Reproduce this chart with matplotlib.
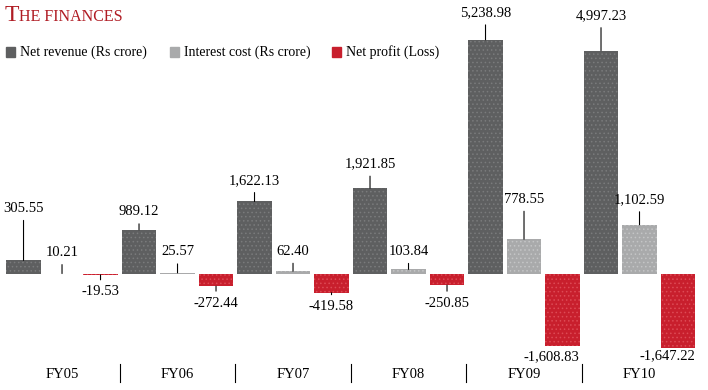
import matplotlib.pyplot as plt
import numpy as np

years = ['FY05', 'FY06', 'FY07', 'FY08', 'FY09', 'FY10']
net_revenue = [305.55, 989.12, 1622.13, 1921.85, 5238.98, 4997.23]
interest_cost = [10.21, 25.57, 62.40, 103.84, 778.55, 1102.59]
net_profit = [-19.53, -272.44, -419.58, -250.85, -1608.83, -1647.22]

# gap (px) between bar end and label centre
rev_gap = [52, 18, 21, 24, 27, 35]
int_gap = [21, 21, 20, 18, 40, 25]
prof_gap = [17, 17, 14, 18, 11, 8]

plt.rcParams['font.family'] = ['Liberation Serif', 'DejaVu Serif']
plt.rcParams['hatch.linewidth'] = 0.6

fig = plt.figure(figsize=(7.08, 3.9), dpi=100)
ax = fig.add_axes([0, 0, 1, 1])
ax.set_xlim(-0.537, 5.593)
ax.set_ylim(-2595, 6130)
ax.axis('off')

x = np.arange(len(years))
w = 0.3
series = [
    (net_revenue, -1/3, '#5e5f60', '#7a7b7c', rev_gap, 'Net revenue (Rs crore)'),
    (interest_cost, 0, '#a9aaab', '#c4c5c6', int_gap, 'Interest cost (Rs crore)'),
    (net_profit, 1/3, '#c81f2d', '#dd4a55', prof_gap, 'Net profit (Loss)'),
]
px = 72 / 100  # points per pixel

for vals, off, col, hcol, gaps, name in series:
    ax.bar(x + off, vals, w, color=col, edgecolor=hcol, linewidth=0, hatch='....')
    for i, v in enumerate(vals):
        xb = x[i] + off
        lbl = f"{v:,.2f}"
        if v < -1000:
            ax.annotate(lbl, (xb + w/2, v), xytext=(0, -gaps[i] * px),
                        textcoords='offset points', ha='right', va='center',
                        fontsize=10.5)
            continue
        sgn = 1 if v >= 0 else -1
        ax.annotate(lbl, (xb, v), xytext=(0, sgn * gaps[i] * px),
                    textcoords='offset points', ha='center', va='center',
                    fontsize=10.5,
                    arrowprops=dict(arrowstyle='-', lw=0.8, color='black',
                                    shrinkA=2, shrinkB=0))

# category labels and separators
trans = ax.get_xaxis_transform()
for i, yr in enumerate(years):
    ax.text(i, 16/390, yr, transform=trans, ha='center', va='center', fontsize=10.5)
    if i > 0:
        ax.plot([i - 0.5, i - 0.5], [8/390, 26/390], transform=trans,
                color='black', lw=0.8)

# title in small caps
fig.text(5/708, 1 - 21/390, 'T', color='#b01c24', fontsize=17, va='baseline')
fig.text(19/708, 1 - 21/390, 'HE FINANCES', color='#b01c24', fontsize=11.5,
         va='baseline')

# legend
leg_x = [6, 170, 332]
for (vals, off, col, hcol, gaps, name), lx in zip(series, leg_x):
    fig.patches.append(plt.Rectangle((lx/708, 1 - 57/390), 9/708, 10/390,
                                     transform=fig.transFigure, color=col))
    fig.text((lx + 14)/708, 1 - 52/390, name, fontsize=10, va='center')

fig.savefig('out.png', dpi=100)
